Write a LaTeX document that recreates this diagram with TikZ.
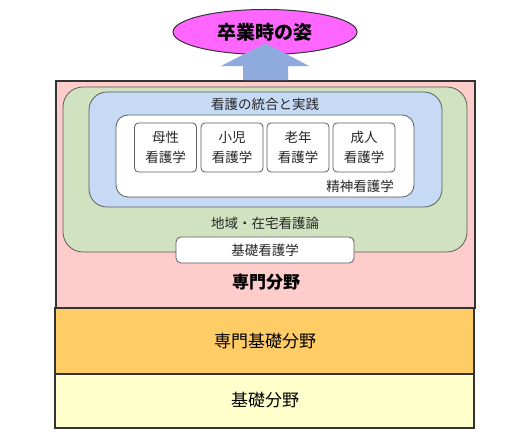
\documentclass[tikz,border=0pt]{standalone}
\usepackage{fontspec}
\setmainfont{Noto Sans CJK JP}
\usetikzlibrary{shapes.geometric}
\definecolor{pinkc}{HTML}{FFCCCC}
\definecolor{orangec}{HTML}{FFCC66}
\definecolor{yellowc}{HTML}{FFFFCC}
\definecolor{greenc}{HTML}{D0E2BF}
\definecolor{bluec}{HTML}{C6DAF5}
\definecolor{magc}{HTML}{FF66FF}
\definecolor{arrowc}{HTML}{8FAADC}
\definecolor{edgec}{HTML}{333333}
\tikzset{
  layer/.style={draw=edgec, line width=1.6pt, inner sep=0pt},
  roundbox/.style={draw=edgec!80, line width=0.8pt, inner sep=0pt},
  subject/.style={roundbox, fill=white, rounded corners=4pt, minimum width=62pt, minimum height=49pt, align=center, font=\fontsize{13.5}{20}\selectfont, text=black!85},
  lbl/.style={font=\fontsize{13.5}{16}\selectfont, text=black!85, inner sep=0pt},
  biglbl/.style={font=\fontsize{17}{20}\selectfont, inner sep=0pt}
}
\begin{document}
\begin{tikzpicture}[x=1pt,y=-1pt]
\useasboundingbox (0,0) rectangle (527,435);
\fill[white] (0,0) rectangle (527,435);
% layers
\node[layer, fill=pinkc, minimum width=419pt, minimum height=227pt] (senmon) at (265.5,194.5) {};
\node[layer, fill=orangec, minimum width=419pt, minimum height=66pt] (senkiso) at (264.5,341) {};
\node[layer, fill=yellowc, minimum width=419pt, minimum height=54pt] (kiso) at (264.5,401) {};
\node[biglbl, font=\fontsize{17}{20}\selectfont\bfseries] (senmonlbl) at (266,282) {専門分野};
\node[biglbl] (senkisolbl) at (265,341) {専門基礎分野};
\node[biglbl] (kisolbl) at (265,400) {基礎分野};
% green
\node[roundbox, fill=greenc, rounded corners=20pt, minimum width=404pt, minimum height=165pt] (chiiki) at (265,169.5) {};
\node[lbl] (chiikilbl) at (265,223) {地域・在宅看護論};
% blue
\node[roundbox, fill=bluec, rounded corners=18pt, minimum width=353pt, minimum height=115pt] (togo) at (265.5,149.5) {};
\node[lbl] (togolbl) at (265,104) {看護の統合と実践};
% white
\node[roundbox, fill=white, rounded corners=12pt, minimum width=298pt, minimum height=82pt] (inner) at (265,156) {};
\node[lbl, anchor=east] (seishin) at (394,186) {精神看護学};
\node[subject] (bosei) at (165.5,147.5) {母性\\看護学};
\node[subject] (shoni) at (232,147.5) {小児\\看護学};
\node[subject] (ronen) at (298,147.5) {老年\\看護学};
\node[subject] (seijin) at (364,147.5) {成人\\看護学};
% kiso kango
\node[roundbox, fill=white, rounded corners=5pt, minimum width=178pt, minimum height=26pt, lbl] (kisokango) at (265,250) {基礎看護学};
% goal
\node[draw=edgec, line width=1pt, ellipse, fill=magc, minimum width=184pt, minimum height=45pt, inner sep=0pt, font=\fontsize{19}{22}\selectfont\bfseries] (goal) at (265,32) {卒業時の姿};
% block arrow
\coordinate (abase) at (senmon.north);
\fill[arrowc] ([xshift=-22.5pt]abase) -- ([xshift=-22.5pt,yshift=14pt]abase) -- ([xshift=-45pt,yshift=14pt]abase) -- ([yshift=37pt]abase) -- ([xshift=44pt,yshift=14pt]abase) -- ([xshift=22.5pt,yshift=14pt]abase) -- ([xshift=22.5pt]abase) -- cycle;
\end{tikzpicture}
\end{document}
